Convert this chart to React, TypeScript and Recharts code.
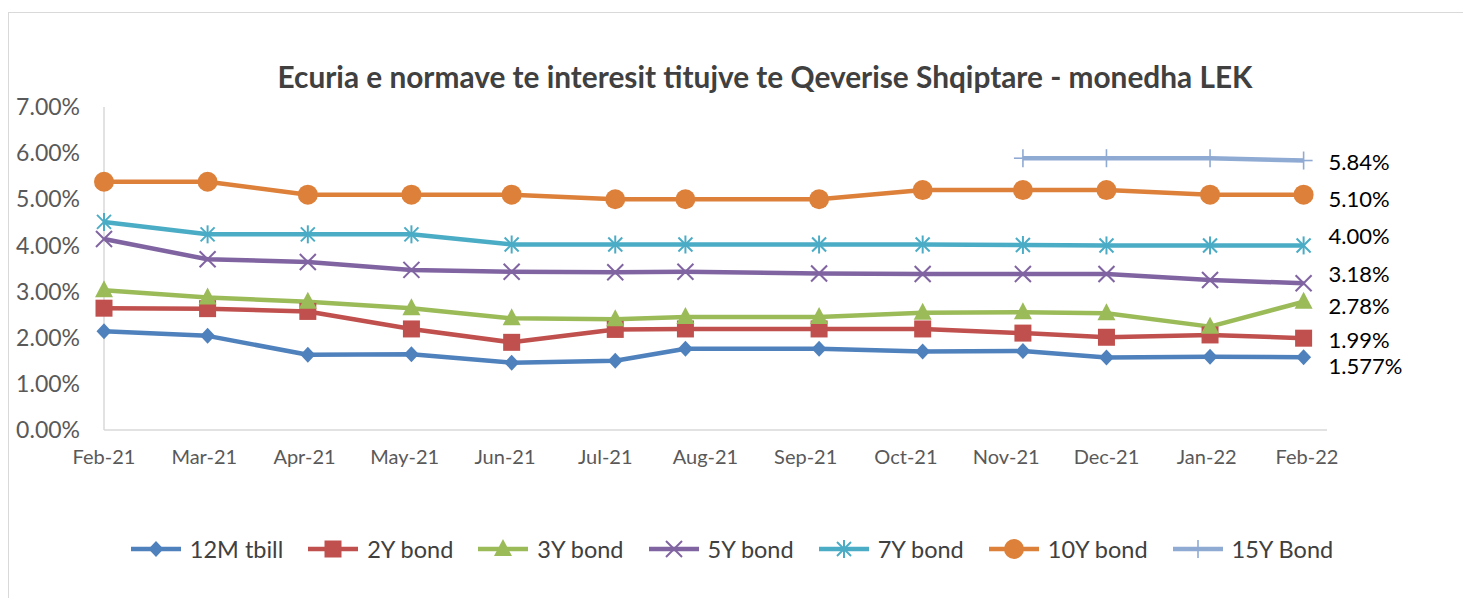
import React from 'react';
import { LineChart, Line, XAxis, YAxis, Legend } from 'recharts';

// axis labels (Excel date axis, one label every 30 days)
const monthLabels = ['Feb-21', 'Mar-21', 'Apr-21', 'May-21', 'Jun-21', 'Jul-21', 'Aug-21', 'Sep-21', 'Oct-21', 'Nov-21', 'Dec-21', 'Jan-22', 'Feb-22'];
const yTicks = [0, 1, 2, 3, 4, 5, 6, 7];

// auction dates, days after the first one
const dayOffsets = [0, 31, 61, 92, 122, 153, 174, 214, 245, 275, 300, 331, 359];

// yields in %
const tbill12m = [2.14, 2.04, 1.63, 1.64, 1.46, 1.50, 1.76, 1.76, 1.70, 1.71, 1.57, 1.59, 1.577];
const bond2y = [2.64, 2.63, 2.57, 2.19, 1.90, 2.18, 2.19, 2.19, 2.19, 2.10, 2.01, 2.06, 1.99];
const bond3y = [3.03, 2.87, 2.78, 2.64, 2.42, 2.40, 2.45, 2.45, 2.54, 2.55, 2.53, 2.24, 2.78];
const bond5y = [4.14, 3.70, 3.64, 3.47, 3.43, 3.42, 3.43, 3.39, 3.38, 3.38, 3.38, 3.25, 3.18];
const bond7y = [4.51, 4.24, 4.24, 4.24, 4.02, 4.02, 4.02, 4.02, 4.02, 4.01, 4.00, 4.00, 4.00];
const bond10y = [5.38, 5.38, 5.10, 5.10, 5.10, 5.00, 5.00, 5.00, 5.20, 5.20, 5.20, 5.10, 5.10];
const bond15y = [null, null, null, null, null, null, null, null, null, 5.89, 5.89, 5.89, 5.84];

const FONT = 'Lato, "Open Sans", sans-serif';

type Shape = 'diamond' | 'square' | 'triangle' | 'cross' | 'star' | 'circle' | 'plus';

const SERIES: { key: string; name: string; color: string; shape: Shape; labelDy: number; values: (number | null)[] }[] = [
  { key: 'tbill12m', name: '12M tbill', color: '#4f81bd', shape: 'diamond', labelDy: 8, values: tbill12m },
  { key: 'bond2y', name: '2Y bond', color: '#c0504d', shape: 'square', labelDy: 1, values: bond2y },
  { key: 'bond3y', name: '3Y bond', color: '#9bbb59', shape: 'triangle', labelDy: 4, values: bond3y },
  { key: 'bond5y', name: '5Y bond', color: '#8064a2', shape: 'cross', labelDy: -10, values: bond5y },
  { key: 'bond7y', name: '7Y bond', color: '#4bacc6', shape: 'star', labelDy: -10, values: bond7y },
  { key: 'bond10y', name: '10Y bond', color: '#dd803a', shape: 'circle', labelDy: 4, values: bond10y },
  { key: 'bond15y', name: '15Y Bond', color: '#8faad3', shape: 'plus', labelDy: 1, values: bond15y },
];

const data = dayOffsets.map((day, i) => {
  const row: Record<string, number | null> = { day };
  SERIES.forEach((s) => { row[s.key] = s.values[i]; });
  return row;
});

const Marker = ({ shape, cx, cy, color }: { shape: Shape; cx: number; cy: number; color: string }) => {
  switch (shape) {
    case 'diamond':
      return <polygon points={`${cx},${cy - 8} ${cx + 7.5},${cy} ${cx},${cy + 8} ${cx - 7.5},${cy}`} fill={color} />;
    case 'square':
      return <rect x={cx - 8.5} y={cy - 8.5} width={17} height={17} fill={color} />;
    case 'triangle':
      return <polygon points={`${cx},${cy - 10} ${cx + 9},${cy + 7} ${cx - 9},${cy + 7}`} fill={color} />;
    case 'cross':
      return (
        <g stroke={color} strokeWidth={2}>
          <line x1={cx - 8} y1={cy - 8} x2={cx + 8} y2={cy + 8} />
          <line x1={cx - 8} y1={cy + 8} x2={cx + 8} y2={cy - 8} />
        </g>
      );
    case 'star':
      return (
        <g stroke={color} strokeWidth={2}>
          <line x1={cx - 7} y1={cy - 7} x2={cx + 7} y2={cy + 7} />
          <line x1={cx - 7} y1={cy + 7} x2={cx + 7} y2={cy - 7} />
          <line x1={cx} y1={cy - 9} x2={cx} y2={cy + 9} />
        </g>
      );
    case 'circle':
      return <circle cx={cx} cy={cy} r={10} fill={color} />;
    case 'plus':
      return (
        <g stroke={color} strokeWidth={1.6}>
          <line x1={cx - 9} y1={cy} x2={cx + 9} y2={cy} />
          <line x1={cx} y1={cy - 9} x2={cx} y2={cy + 9} />
        </g>
      );
    default:
      return null;
  }
};

const formatPct = (v: number) => {
  const two = Math.abs(Math.round(v * 100) - v * 100) < 1e-6;
  return `${two ? v.toFixed(2) : v.toFixed(3)}%`;
};

const renderDot = (shape: Shape, color: string) => (props: any) => {
  const { cx, cy, index, payload } = props;
  if (cx == null || cy == null || payload == null) return <g key={`d-${index}`} />;
  return (
    <g key={`d-${index}`}>
      <Marker shape={shape} cx={cx} cy={cy} color={color} />
    </g>
  );
};

const renderEndLabel = (dy: number) => (props: any) => {
  const { x, y, value, index } = props;
  if (index !== dayOffsets.length - 1 || value == null) return null;
  return (
    <text x={x + 25} y={y + dy} dominantBaseline="central" fontFamily={FONT} fontSize={22} fill="#000">
      {formatPct(Number(value))}
    </text>
  );
};

const renderLegend = () => (
  <div style={{ display: 'flex', justifyContent: 'center', alignItems: 'center', fontFamily: FONT, fontSize: 23.5, color: '#404040' }}>
    {SERIES.map((s) => (
      <div key={s.key} style={{ display: 'flex', alignItems: 'center', margin: '0 12px' }}>
        <svg width={52} height={24}>
          <line x1={1} y1={12} x2={51} y2={12} stroke={s.color} strokeWidth={4.5} />
          <Marker shape={s.shape} cx={26} cy={12} color={s.color} />
        </svg>
        <span style={{ marginLeft: 8 }}>{s.name}</span>
      </div>
    ))}
  </div>
);

export default function App() {
  return (
    <div style={{ position: 'absolute', left: 0, top: 0, width: 1463, height: 598, overflow: 'hidden', background: '#fff' }}>
      <div style={{ position: 'absolute', left: 8, top: 12, width: 1480, height: 620, border: '1.5px solid #d9d9d9' }} />
      <div
        style={{
          position: 'absolute', left: 0, top: 59, width: 1530, textAlign: 'center',
          fontFamily: FONT, fontWeight: 700, fontSize: 29.8, color: '#404040', whiteSpace: 'nowrap',
        }}
      >
        Ecuria e normave te interesit titujve te Qeverise Shqiptare - monedha LEK
      </div>
      <div style={{ position: 'absolute', left: 0, top: 0 }}>
        <LineChart width={1463} height={598} data={data} margin={{ top: 107, right: 136, bottom: 138, left: 0 }}>
          <XAxis
            dataKey="day"
            type="number"
            domain={[0, 366]}
            ticks={monthLabels.map((_, i) => i * 30)}
            interval={0}
            tickFormatter={(v: number) => monthLabels[Math.round(v / 30)]}
            height={30}
            axisLine={{ stroke: '#d9d9d9', strokeWidth: 1.5 }}
            tickLine={false}
            tickMargin={14}
            tick={{ fill: '#595959', fontSize: 20, fontFamily: FONT }}
          />
          <YAxis
            type="number"
            domain={[0, 7]}
            ticks={yTicks}
            interval={0}
            width={104}
            tickFormatter={(v: number) => `${v.toFixed(2)}%`}
            axisLine={{ stroke: '#d9d9d9', strokeWidth: 1.5 }}
            tickLine={false}
            tickMargin={18}
            tick={{ fill: '#595959', fontSize: 23, fontFamily: FONT }}
          />
          <Legend content={renderLegend} verticalAlign="middle" layout="horizontal" wrapperStyle={{ top: 535, left: 0, width: 1463 }} />
          {SERIES.map((s) => (
            <Line
              key={s.key}
              dataKey={s.key}
              name={s.name}
              type="linear"
              stroke={s.color}
              strokeWidth={4.5}
              strokeLinejoin="round"
              dot={renderDot(s.shape, s.color)}
              activeDot={false}
              label={renderEndLabel(s.labelDy)}
              isAnimationActive={false}
            />
          ))}
        </LineChart>
      </div>
    </div>
  );
}
